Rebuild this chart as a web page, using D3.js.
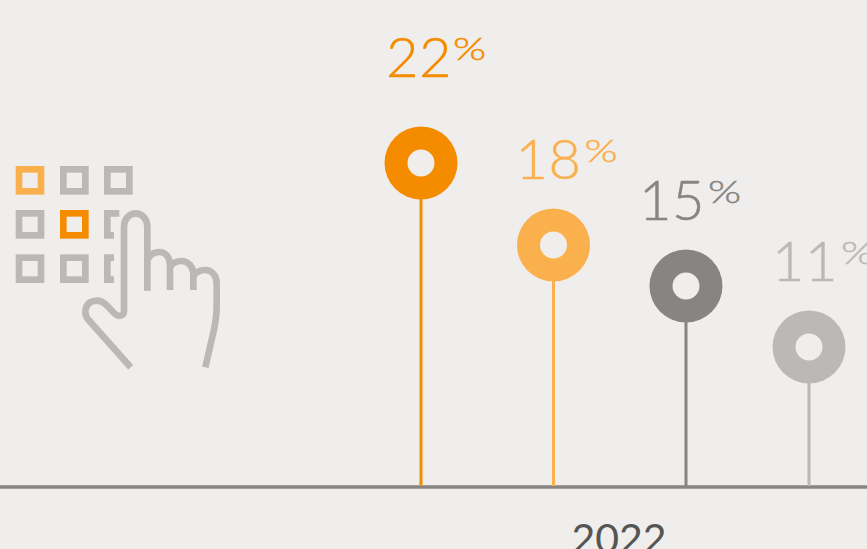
<!DOCTYPE html>
<html><head><meta charset="utf-8">
<script src="https://cdnjs.cloudflare.com/ajax/libs/d3/7.8.5/d3.min.js"></script>
<style>html,body{margin:0;padding:0;background:#f0eeec;overflow:hidden}svg{display:block}text{font-family:Lato,sans-serif}</style>
</head><body><svg id="c" width="867" height="549"></svg>
<script>
const categories = ["A","B","C","D"];
const values = [22,18,15,11];
const colors = ["#f58c00","#fbb04e","#868583","#bab9b7"];
const yearLabel = "2022";

const svg = d3.select("#c");
const bg = "#f0eeec";
const x = d3.scaleOrdinal().domain(categories).range([421,553.5,686,809]);
const y = d3.scaleLinear().domain([0,11,15,18,22]).range([487,347,286,245,163]);
const baseY = y(0);
const color = d3.scaleOrdinal().domain(categories).range(colors);
const rows = categories.map((c,i)=>({c,v:values[i]}));
const labelDx = {A:-35,B:-38,C:-47,D:-37};
const labelDy = {A:-86,B:-66,C:-66,D:-66};
const pctDx = {A:67,B:69,C:69,D:69};

// icon
const icon = svg.append("g").attr("transform","translate(0,150) scale(0.33333)").attr("fill","none").attr("stroke-width",20);
const grey="#bab9b7";
const cols=[57,190,322], rws=[58,190,323], s=66;
rws.forEach((ry,r)=>cols.forEach((cx,k)=>{
  if(k===2&&r>0) return;
  const st = (r===0&&k===0)?colors[1]:(r===1&&k===1)?colors[0]:grey;
  icon.append("rect").attr("x",cx).attr("y",ry).attr("width",s).attr("height",s).attr("stroke",st);
}));
icon.append("path").attr("stroke",grey).attr("d","M358,190H322V256H342");
icon.append("path").attr("stroke",grey).attr("d","M342,323H322V389H342");
icon.append("path").attr("stroke",grey).attr("stroke-width",20).attr("d",
 "M392,652L264,508C250,490 256,465 272,456C290,448 306,452 318,464L345,492C355,502 372,498 372,482V230C372,208 388,190 407,190C426,190 442,208 442,230V422"+
 "M442,330C450,312 466,306 478,306C496,306 510,322 510,345V420"+
 "M510,352C518,338 532,333 545,333C564,333 580,350 580,372V420"+
 "M580,378C590,364 604,360 616,360C636,360 650,378 650,400V470C650,510 642,540 636,565L616,652");

// baseline
svg.append("line").attr("x1",0).attr("x2",867).attr("y1",baseY).attr("y2",baseY).attr("stroke","#868583").attr("stroke-width",3.4);

const g = svg.selectAll("g.m").data(rows).join("g").attr("class","m");
g.append("line").attr("x1",d=>x(d.c)).attr("x2",d=>x(d.c)).attr("y1",d=>y(d.v)).attr("y2",baseY-1)
 .attr("stroke",d=>color(d.c)).attr("stroke-width",3);
g.append("circle").attr("cx",d=>x(d.c)).attr("cy",d=>y(d.v)).attr("r",36.5).attr("fill",d=>color(d.c));
g.append("circle").attr("cx",d=>x(d.c)).attr("cy",d=>y(d.v)).attr("r",13.5).attr("fill",bg);
g.append("text").attr("x",d=>x(d.c)+labelDx[d.c]).attr("y",d=>y(d.v)+labelDy[d.c])
 .attr("fill",d=>color(d.c)).attr("stroke",d=>color(d.c)).attr("stroke-width",0.5)
 .attr("font-weight",300).attr("font-size",56).attr("letter-spacing",0.6).text(d=>d.v);
g.append("text")
 .attr("transform",d=>`translate(${x(d.c)+labelDx[d.c]+pctDx[d.c]},${y(d.v)+labelDy[d.c]-17}) scale(1.33,1)`)
 .attr("fill",d=>color(d.c)).attr("stroke",d=>color(d.c)).attr("stroke-width",0.5)
 .attr("font-weight",300).attr("font-size",32).text("%");

svg.append("text").attr("x",619).attr("y",553).attr("text-anchor","middle").attr("font-size",41).attr("fill","#555554").attr("font-weight",400).text(yearLabel);
</script></body></html>
